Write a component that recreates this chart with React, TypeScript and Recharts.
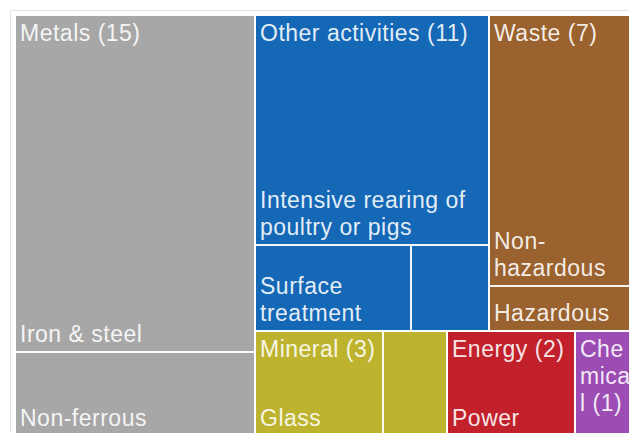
import { Treemap } from "recharts"

const groupNames = ["Metals", "Other activities", "Waste", "Mineral", "Energy", "Chemical"]
const groupColors = ["#A7A7A7", "#1568B6", "#9A622E", "#BDB32E", "#C2212B", "#9C4DB4"]
const itemNames = [
  ["Iron & steel", "Non-ferrous"],
  ["Intensive rearing of poultry or pigs", "Surface treatment", ""],
  ["Non-hazardous", "Hazardous"],
  ["Glass", ""],
  ["Power"],
  [""],
]
const itemValues = [[12, 3], [8, 2, 1], [6, 1], [2, 1], [2], [1]]

const data = groupNames.map((name, i) => ({
  name,
  color: groupColors[i],
  children: itemNames[i].map((n, j) => ({ name: n, size: itemValues[i][j] })),
}))

const labelStyle = {
  width: "100%",
  height: "100%",
  boxSizing: "border-box" as const,
  padding: "5px 3px 4px 5px",
  display: "flex",
  flexDirection: "column" as const,
  fontFamily: "'Liberation Sans', Arial, sans-serif",
  fontSize: 23,
  lineHeight: "27px",
  letterSpacing: 0.5,
  color: "rgba(255,255,255,0.9)",
  overflowWrap: "anywhere" as const,
  overflow: "hidden",
}

// one function for both levels: groups get the fill and a top label, items get a border and a bottom label
function Tile(props: any) {
  const { depth, x, y, width, height, name, value, color } = props
  if (depth === 0) return <g />
  if (depth === 1) {
    return (
      <g>
        <rect x={x} y={y} width={width} height={height} fill={color} stroke="#fff" strokeWidth={2} />
        <foreignObject x={x} y={y} width={width} height={height}>
          <div style={{ ...labelStyle, justifyContent: "flex-start" }}>{`${name} (${value})`}</div>
        </foreignObject>
      </g>
    )
  }
  return (
    <g>
      <rect x={x} y={y} width={width} height={height} fill="none" stroke="#fff" strokeWidth={1.5} />
      {name ? (
        <foreignObject x={x} y={y} width={width} height={height}>
          <div style={{ ...labelStyle, justifyContent: "flex-end" }}>{name}</div>
        </foreignObject>
      ) : null}
    </g>
  )
}

export default function App() {
  return (
    <div style={{ position: "absolute", left: 0, top: 0, width: 629, height: 433, overflow: "hidden", background: "#fff" }}>
      <div
        style={{
          position: "absolute",
          left: 10,
          top: 10,
          width: 700,
          height: 500,
          borderTop: "1px solid #e3e3e3",
          borderLeft: "1px solid #e3e3e3",
        }}
      />
      <div style={{ position: "absolute", left: 15, top: 15 }}>
        <Treemap
          width={623}
          height={421}
          data={data}
          dataKey="size"
          aspectRatio={1.1}
          isAnimationActive={false}
          content={(p: any) => <Tile {...p} />}
        />
      </div>
    </div>
  )
}
